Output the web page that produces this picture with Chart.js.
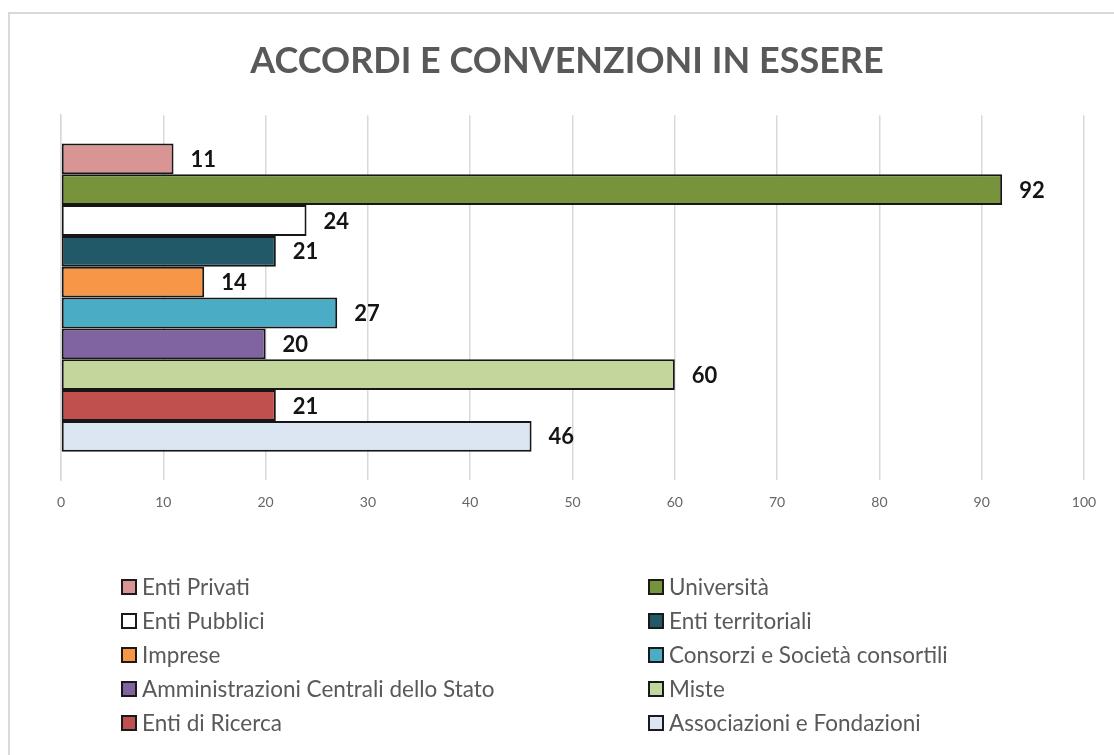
<!DOCTYPE html>
<html>
<head>
<meta charset="utf-8">
<script src="https://cdn.jsdelivr.net/npm/chart.js@4/dist/chart.umd.min.js"></script>
<style>
  html, body { margin: 0; padding: 0; background: #fff; }
  #wrap { position: absolute; left: 0; top: 0; width: 1114px; height: 755px; overflow: hidden; }
  #frame { position: absolute; left: 8px; top: 12px; width: 1200px; height: 900px;
           border-left: 2px solid #d9d9d9; border-top: 2px solid #d9d9d9; }
  canvas { position: absolute; left: 0; top: 0; }
</style>
</head>
<body>
<div id="wrap">
  <div id="frame"></div>
  <canvas id="c" width="1114" height="755"></canvas>
</div>
<script>
const titleText = "ACCORDI E CONVENZIONI IN ESSERE";
const categories = ["1"];
const seriesNames = [
  "Enti Privati", "Università", "Enti Pubblici", "Enti territoriali", "Imprese",
  "Consorzi e Società consortili", "Amministrazioni Centrali dello Stato", "Miste",
  "Enti di Ricerca", "Associazioni e Fondazioni"
];
const seriesValues = [11, 92, 24, 21, 14, 27, 20, 60, 21, 46];
const seriesColors = [
  "#D99594", "#77933C", "#FFFFFF", "#215968", "#F79646",
  "#4BACC6", "#8064A2", "#C3D69B", "#C0504D", "#DCE6F2"
];
const xTicks = [0, 10, 20, 30, 40, 50, 60, 70, 80, 90, 100];

const datasets = seriesNames.map((name, i) => ({
  label: name,
  data: [seriesValues[i]],
  backgroundColor: seriesColors[i],
  borderColor: "#161616",
  borderWidth: 2,
  borderSkipped: false,
  categoryPercentage: 0.845,
  barPercentage: 1.0
}));

const valueLabels = {
  id: "valueLabels",
  afterDatasetsDraw(chart) {
    const ctx = chart.ctx;
    ctx.save();
    ctx.font = "bold 22px Lato";
    ctx.fillStyle = "#141414";
    ctx.textAlign = "left";
    ctx.textBaseline = "middle";
    chart.data.datasets.forEach((ds, i) => {
      const meta = chart.getDatasetMeta(i);
      meta.data.forEach((el, j) => {
        ctx.fillText(String(ds.data[j]), el.x + 17, el.y + 1);
      });
    });
    ctx.restore();
  }
};

const gridLegend = {
  id: "gridLegend",
  afterDraw(chart) {
    const ctx = chart.ctx;
    const colX = [122, 649];
    const rowY0 = 587, rowStep = 34, box = 14;
    ctx.save();
    ctx.font = "22.5px Lato";
    ctx.textBaseline = "middle";
    ctx.textAlign = "left";
    chart.data.datasets.forEach((ds, i) => {
      const col = i % 2, row = Math.floor(i / 2);
      const x = colX[col], y = rowY0 + row * rowStep;
      ctx.fillStyle = ds.backgroundColor;
      ctx.fillRect(x, y - box / 2, box, box);
      ctx.lineWidth = 2;
      ctx.strokeStyle = "#1a1a1a";
      ctx.strokeRect(x, y - box / 2, box, box);
      ctx.fillStyle = "#595959";
      ctx.fillText(ds.label, x + box + 6, y + 1);
    });
    ctx.restore();
  }
};

new Chart(document.getElementById("c"), {
  type: "bar",
  data: { labels: categories, datasets },
  options: {
    indexAxis: "y",
    responsive: false,
    animation: false,
    layout: { padding: { left: 50, right: 30, top: 0, bottom: 235 } },
    plugins: {
      legend: { display: false },
      tooltip: { enabled: false },
      title: {
        display: true,
        text: titleText,
        color: "#595959",
        font: { family: "Lato", size: 36, weight: "bold" },
        padding: { top: 40, bottom: 32 }
      }
    },
    scales: {
      x: {
        min: 0, max: 100,
        afterBuildTicks(axis) { axis.ticks = xTicks.map(v => ({ value: v })); },
        afterFit(axis) { axis.height = 40; },
        grid: { color: "#d9d9d9", lineWidth: 1.5, drawTicks: false },
        border: { display: false },
        ticks: { color: "#666666", font: { family: "Lato", size: 14 }, padding: 14, maxRotation: 0 }
      },
      y: {
        afterFit(axis) { axis.width = 11; },
        grid: { display: false, drawTicks: false },
        border: { display: true, color: "#d9d9d9", width: 1.5 },
        ticks: { color: "#666666", font: { family: "Lato", size: 14 }, padding: 21 }
      }
    }
  },
  plugins: [valueLabels, gridLegend]
});
</script>
</body>
</html>
